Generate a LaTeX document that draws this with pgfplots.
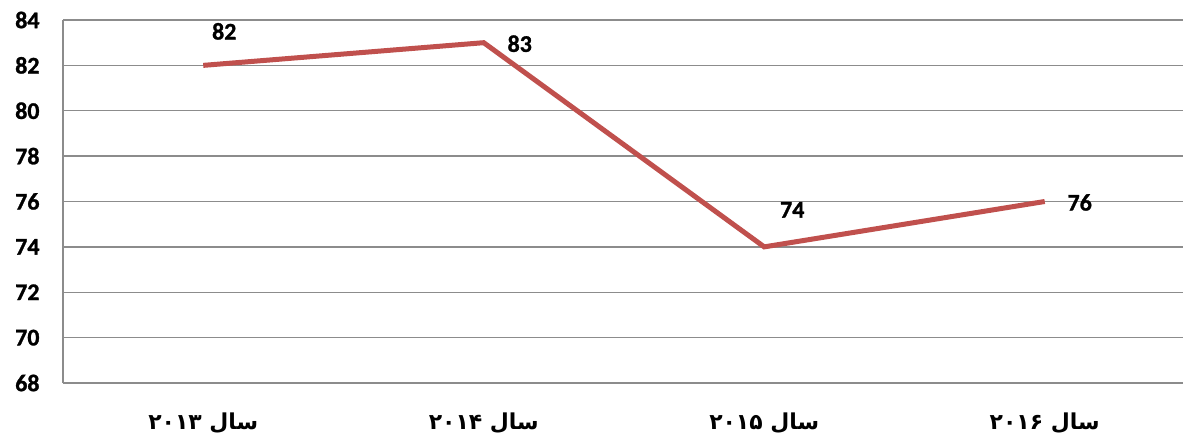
\documentclass[border=0pt]{standalone}
\usepackage{fontspec}
\setmainfont{Carlito}
\newfontfamily\carlitobold{Carlito}[UprightFont={* Bold}, FakeBold=1.2]
\newfontfamily\arabicfont[Script=Arabic]{DejaVu Sans Bold}
\TeXXeTstate=1
\usepackage{pgfplots}
\pgfplotsset{compat=1.18}
\definecolor{linered}{HTML}{C0504D}
\definecolor{gridgray}{HTML}{8C8C8C}
\pgfplotstableread{
x y dx dy
0 82 21 34
1 83 36 -1
2 74 28 37
3 76 35 -1
}\datatable
\begin{document}
\begin{tikzpicture}
\path[use as bounding box] (-63bp,-58bp) rectangle (1120bp,383bp);
\begin{axis}[
  scale only axis, width=1122bp, height=363bp,
  xmin=-0.5, xmax=3.5, ymin=68, ymax=84,
  ytick={68,70,...,84},
  xtick={0,1,2,3},
  xticklabels={
    {\arabicfont\beginR سال \beginL۲۰۱۳\endL\endR},
    {\arabicfont\beginR سال \beginL۲۰۱۴\endL\endR},
    {\arabicfont\beginR سال \beginL۲۰۱۵\endL\endR},
    {\arabicfont\beginR سال \beginL۲۰۱۶\endL\endR}},
  /pgf/number format/assume math mode=true,
  axis lines*=left,
  axis line style={gridgray, line width=1.5bp},
  ymajorgrids, grid style={gridgray, line width=1.5bp},
  major tick length=0pt,
  yticklabel style={font=\fontsize{24}{24}\selectfont\carlitobold, anchor=east, xshift=-20bp},
  xticklabel style={font=\fontsize{22}{22}\selectfont, anchor=center, yshift=-40bp},
  clip=false,
]
\addplot[linered, line width=5bp,
  visualization depends on={\thisrow{dx}\as\ddx},
  visualization depends on={\thisrow{dy}\as\ddy},
  nodes near coords,
  point meta=explicit,
  every node near coord/.append style={font=\fontsize{24}{24}\selectfont\carlitobold, black, anchor=center, xshift=\ddx bp, yshift=\ddy bp},
] table[x=x, y=y, meta=y] {\datatable};
\end{axis}
\end{tikzpicture}
\end{document}
